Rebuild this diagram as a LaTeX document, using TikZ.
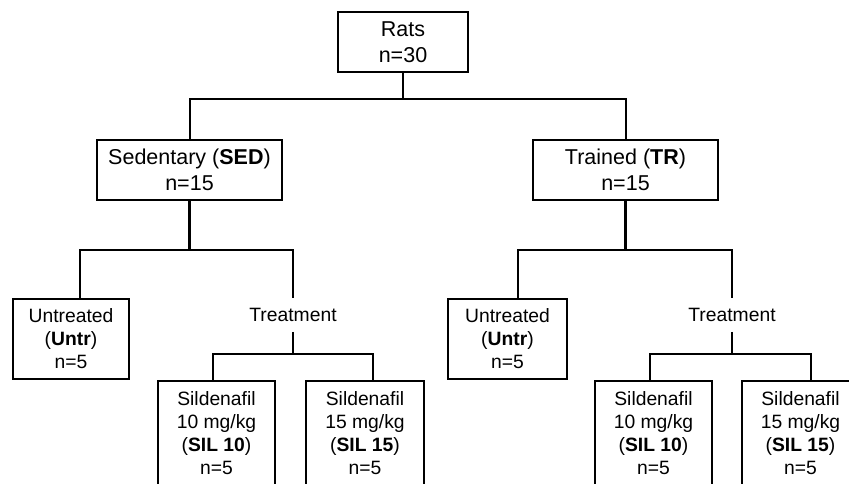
\documentclass[tikz,border=0pt]{standalone}
\usepackage{fontspec}
\setmainfont{Liberation Sans}

\begin{document}
\begin{tikzpicture}[x=1pt,y=-1pt,
    big/.style={draw,line width=1.3pt,align=center,inner sep=0pt,minimum height=60pt,font=\fontsize{21.5}{25.5}\selectfont},
    small/.style={draw,line width=1.3pt,align=center,inner sep=0pt,font=\fontsize{19.3}{23}\selectfont},
    lbl/.style={align=center,inner xsep=0pt,inner ysep=10pt,font=\fontsize{19.3}{23}\selectfont},
    link/.style={line width=2.8pt},
    toplink/.style={line width=2pt}]
    \useasboundingbox (0,0) rectangle (849,483);
    \clip (0,0) rectangle (849,483);
    % top levels
    \node[big,minimum width=130pt] (R) at (403,42) {Rats\\n=30};
    \node[big,minimum width=185pt] (S) at (189.5,170) {Sedentary (\textbf{SED})\\n=15};
    \node[big,minimum width=185pt] (T) at (625.5,170) {Trained (\textbf{TR})\\n=15};
    % sedentary branch
    \node[small,minimum width=116pt,minimum height=80pt] (SU) at (71,339) {Untreated\\(\textbf{Untr})\\n=5};
    \node[lbl] (ST) at (293,315) {Treatment};
    \node[small,minimum width=117pt,minimum height=104pt] (S10) at (216.5,433) {Sildenafil\\10 mg/kg\\(\textbf{SIL 10})\\n=5};
    \node[small,minimum width=118pt,minimum height=104pt] (S15) at (365,433) {Sildenafil\\15 mg/kg\\(\textbf{SIL 15})\\n=5};
    % trained branch
    \node[small,minimum width=119pt,minimum height=80pt] (TU) at (507.5,339) {Untreated\\(\textbf{Untr})\\n=5};
    \node[lbl] (TT) at (732,315) {Treatment};
    \node[small,minimum width=117pt,minimum height=104pt] (T10) at (653.5,433) {Sildenafil\\10 mg/kg\\(\textbf{SIL 10})\\n=5};
    \node[small,minimum width=117pt,minimum height=104pt] (T15) at (800.5,433) {Sildenafil\\15 mg/kg\\(\textbf{SIL 15})\\n=5};
    % bus points
    \coordinate (B) at (403,99);
    \coordinate (BS) at (189.5,250);
    \coordinate (BT) at (625.5,250);
    \coordinate (BST) at (293,354);
    \coordinate (BTT) at (732,354);
    \draw[toplink] (R) -- (B);
    \draw[toplink] (B) -| (S.north);
    \draw[toplink] (B) -| (T.north);
    \draw[link] (S) -- (BS);
    \draw[link] (BS) -| ([xshift=9pt]SU.north);
    \draw[link] (BS) -| (ST.north);
    \draw[link] (ST) -- (BST);
    \draw[link] (BST) -| ([xshift=-3.5pt]S10.north);
    \draw[link] (BST) -| ([xshift=8pt]S15.north);
    \draw[link] (T) -- (BT);
    \draw[link] (BT) -| ([xshift=10.5pt]TU.north);
    \draw[link] (BT) -| (TT.north);
    \draw[link] (TT) -- (BTT);
    \draw[link] (BTT) -| ([xshift=-3.5pt]T10.north);
    \draw[link] (BTT) -| ([xshift=10.5pt]T15.north);
\end{tikzpicture}
\end{document}
